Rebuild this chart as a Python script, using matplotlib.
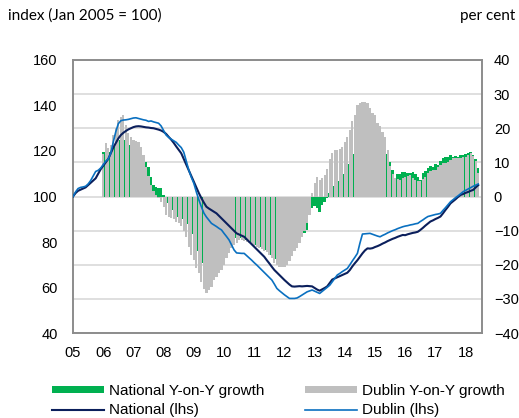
import matplotlib
matplotlib.use("Agg")
import matplotlib.pyplot as plt
from matplotlib.patches import Patch
from matplotlib.lines import Line2D
import numpy as np

# Monthly, Jan 2005 .. Jun 2018
year_labels = ["05", "06", "07", "08", "09", "10", "11", "12", "13", "14", "15", "16", "17", "18"]

national_index = [
    100.0, 101.5, 102.5, 103.0, 103.5, 104.0, 105.0, 106.0, 107.0, 108.0, 110.0, 112.0,   # 2005
    113.5, 115.0, 116.5, 119.0, 121.5, 123.5, 125.5, 127.0, 128.0, 128.8, 129.5, 130.0,   # 2006
    130.5, 130.8, 130.9, 130.8, 130.6, 130.4, 130.3, 130.1, 130.0, 129.7, 129.4, 129.0,   # 2007
    128.4, 127.5, 126.2, 125.0, 123.6, 122.0, 120.5, 119.0, 116.5, 114.0, 111.6, 109.0,   # 2008
    106.5, 104.0, 101.5, 99.3, 97.3, 95.5, 94.7, 94.0, 93.3, 92.6, 91.5, 90.4,            # 2009
    89.3, 88.2, 87.1, 86.0, 84.9, 83.8, 83.3, 82.8, 82.3, 81.2, 80.1, 79.0,               # 2010
    77.9, 76.8, 75.7, 74.6, 73.5, 72.0, 70.6, 69.1, 67.7, 66.6, 65.5, 64.4,               # 2011
    63.3, 62.3, 61.3, 60.5, 60.4, 60.5, 60.6, 60.5, 60.6, 60.7, 60.6, 60.5,               # 2012
    59.8, 59.1, 58.6, 59.2, 59.8, 60.5, 62.0, 63.5, 64.0, 64.5, 65.0, 65.5,               # 2013
    66.0, 66.5, 67.7, 69.3, 70.7, 72.0, 73.5, 75.0, 76.3, 77.2, 77.1, 77.3,               # 2014
    77.8, 78.2, 78.7, 79.3, 79.8, 80.4, 80.9, 81.4, 81.8, 82.3, 82.7, 83.1,               # 2015
    83.0, 83.4, 83.7, 84.0, 84.2, 84.5, 85.3, 86.2, 87.2, 88.1, 89.0, 89.5,               # 2016
    90.1, 90.6, 91.2, 92.6, 94.1, 95.5, 97.0, 97.9, 98.8, 99.8, 100.7, 101.1,             # 2017
    101.6, 102.0, 102.5, 102.9, 104.0, 105.0,                                             # 2018
]

dublin_index = [
    100.0, 102.0, 103.5, 104.0, 104.2, 104.5, 105.5, 107.0, 109.0, 111.0, 111.5, 112.5,   # 2005
    114.0, 115.5, 116.5, 119.0, 124.0, 128.5, 132.0, 133.3, 133.6, 133.7, 133.9, 134.2,   # 2006
    134.5, 134.6, 134.3, 134.0, 133.7, 133.5, 133.0, 133.2, 132.8, 132.5, 132.2, 131.0,   # 2007
    129.0, 127.0, 126.0, 125.2, 124.5, 123.8, 122.6, 121.5, 119.5, 115.5, 111.6, 108.5,   # 2008
    105.8, 102.0, 98.5, 95.5, 92.7, 91.0, 89.6, 88.2, 87.5, 86.8, 86.0, 85.3,             # 2009
    83.8, 82.4, 80.9, 78.7, 76.5, 75.2, 75.1, 75.0, 75.0, 74.0, 73.0, 72.0,               # 2010
    70.9, 69.9, 68.8, 67.7, 66.6, 65.5, 64.4, 63.3, 61.5, 59.6, 58.6, 57.7,               # 2011
    56.8, 56.0, 55.2, 55.2, 55.2, 55.4, 56.0, 56.7, 57.4, 58.1, 58.5, 58.9,               # 2012
    58.4, 57.9, 57.4, 58.3, 59.2, 60.1, 61.0, 62.5, 64.0, 65.5, 66.2, 67.0,               # 2013
    67.7, 68.4, 70.0, 71.7, 73.3, 75.0, 79.5, 83.5, 83.6, 83.7, 83.8, 83.4,               # 2014
    83.0, 82.6, 82.3, 82.9, 83.4, 84.0, 84.5, 85.0, 85.4, 85.9, 86.3, 86.7,               # 2015
    87.0, 87.2, 87.5, 87.7, 88.0, 88.2, 89.0, 89.7, 90.5, 91.2, 91.5, 91.8,               # 2016
    92.1, 92.3, 92.6, 93.9, 95.1, 96.4, 97.7, 98.6, 99.5, 100.3, 101.2, 102.1,            # 2017
    102.7, 103.3, 103.9, 104.5, 105.0, 105.5,                                             # 2018
]

# Year-on-year growth (per cent), Jan 2006 .. Jun 2018
national_yoy = [
    13.1, 13.0, 13.0, 13.1, 14.5, 15.5, 16.5, 17.0, 16.5, 15.8, 15.0, 14.6,               # 2006
    14.5, 14.3, 14.2, 14.0, 12.0, 10.0, 8.7, 5.8, 3.5, 2.9, 2.6, 2.4,                     # 2007
    0.5, -1.0, -2.0, -3.0, -4.0, -5.0, -5.9, -6.5, -7.5, -8.2, -8.8, -11.0,               # 2008
    -13.5, -16.0, -18.6, -19.5, -20.0, -20.3, -20.6, -20.0, -19.0, -17.5, -16.2, -15.5,   # 2009
    -14.6, -14.0, -13.5, -13.0, -12.5, -12.2, -12.0, -12.2, -12.5, -12.7, -13.0, -13.3,   # 2010
    -13.7, -14.2, -14.8, -15.3, -15.7, -16.3, -17.0, -17.6, -18.2, -18.5, -18.5, -18.3,   # 2011
    -18.0, -17.0, -15.8, -14.5, -13.5, -12.7, -11.5, -11.0, -10.8, -9.8, -5.0, -3.5,      # 2012
    -2.9, -3.5, -4.4, -2.4, -1.5, -0.5, 1.0, 3.0, 3.5, 4.5, 5.5, 6.5,                     # 2013
    8.0, 9.5, 11.0, 12.5, 13.6, 15.0, 16.5, 17.5, 18.5, 19.5, 18.5, 17.5,                 # 2014
    16.5, 15.5, 14.5, 13.8, 13.6, 12.5, 10.2, 7.8, 5.5, 6.5, 6.5, 7.3,                    # 2015
    7.3, 7.0, 7.0, 7.3, 6.5, 5.8, 4.8, 6.8, 7.5, 8.3, 9.0, 8.7,                           # 2016
    9.5, 9.2, 10.5, 11.2, 11.5, 11.7, 12.2, 11.7, 12.0, 11.7, 12.2, 12.2,                 # 2017
    12.5, 12.7, 13.1, 12.2, 11.0, 8.3,                                                    # 2018
]

dublin_yoy = [
    12.5, 15.6, 14.1, 15.1, 18.0, 20.0, 22.4, 23.4, 23.9, 21.0, 18.5, 17.5,               # 2006
    16.6, 16.3, 16.1, 14.6, 12.2, 8.7, 6.0, 3.5, 1.5, 0.5, -0.5, -1.5,                    # 2007
    -3.0, -5.5, -6.0, -6.2, -6.5, -7.5, -7.9, -8.5, -10.0, -12.0, -14.7, -17.0,           # 2008
    -18.5, -21.0, -22.5, -25.0, -27.0, -28.2, -27.5, -26.4, -24.5, -23.5, -22.5, -21.5,   # 2009
    -20.0, -18.0, -16.6, -15.0, -14.2, -13.5, -12.7, -12.7, -13.0, -13.2, -13.5, -14.2,   # 2010
    -14.7, -14.8, -15.2, -15.5, -16.0, -16.2, -17.0, -18.0, -19.5, -20.0, -20.6, -20.6,   # 2011
    -20.6, -20.0, -19.0, -17.5, -16.0, -15.0, -13.5, -12.0, -10.0, -7.9, -5.5, 1.0,       # 2012
    4.0, 5.8, 4.8, 5.5, 6.3, 8.0, 11.0, 12.7, 13.6, 13.6, 13.8, 14.6,                     # 2013
    16.1, 17.5, 19.5, 22.0, 24.0, 26.8, 27.5, 27.8, 27.8, 27.5, 26.0, 24.5,               # 2014
    23.9, 21.4, 20.8, 19.0, 17.5, 13.6, 9.0, 6.5, 5.3, 5.0, 4.8, 5.3,                     # 2015
    5.8, 6.0, 6.3, 5.5, 4.8, 4.5, 4.4, 5.0, 5.8, 6.8, 7.5, 7.8,                           # 2016
    7.8, 8.5, 9.2, 9.7, 9.7, 10.2, 10.8, 11.2, 11.2, 11.2, 11.2, 11.5,                    # 2017
    11.7, 12.2, 12.8, 12.0, 10.5, 7.0,                                                    # 2018
]

legend_labels = ["National Y-on-Y growth", "Dublin Y-on-Y growth", "National (lhs)", "Dublin (lhs)"]

GREEN = "#00B050"
GREY = "#BFBFBF"
NAVY = "#0B1F5C"
BLUE = "#0A70C0"
AXIS_GREY = "#8C8C8C"
GRID_GREY = "#D9D9D9"

plt.rcParams["font.family"] = ["Liberation Sans", "DejaVu Sans"]

fig = plt.figure(figsize=(5.19, 4.18), dpi=100)
ax = fig.add_axes([0.1407, 0.2033, 0.7880, 0.6532])   # bars, right-hand scale
axl = ax.twinx()                                        # lines, left-hand scale

months = np.arange(len(national_index))
bar_x = months[12:12 + len(national_yoy)]

ax.bar(bar_x, national_yoy, width=1.0, color=GREEN, linewidth=0, zorder=2)
ax.bar(bar_x, dublin_yoy, width=0.88, color=GREY, linewidth=0, zorder=3)

axl.plot(months, national_index, color=NAVY, lw=1.5, zorder=4)
axl.plot(months, dublin_index, color=BLUE, lw=1.2, zorder=5)

ax.set_ylim(-40, 40)
ax.set_yticks(np.arange(-40, 41, 10))
axl.set_ylim(40, 160)
axl.set_yticks(np.arange(40, 161, 20))
ax.set_xlim(0, 162.5)
ax.set_xticks(np.arange(0, 12 * len(year_labels), 12))
ax.set_xticklabels(year_labels)

ax.yaxis.tick_right()
axl.yaxis.tick_left()
ax.yaxis.set_label_position("right")

for a in (ax, axl):
    a.tick_params(length=0, labelsize=10.5, colors="black")
    for s in a.spines.values():
        s.set_color(AXIS_GREY)
        s.set_linewidth(1.2)
ax.tick_params(axis="y", pad=8.5)
axl.tick_params(axis="y", pad=11)
ax.tick_params(axis="x", pad=9)
for lab in ax.get_yticklabels():
    lab.set_horizontalalignment("left")

ax.grid(axis="y", color=GRID_GREY, lw=1.2, zorder=0)
ax.set_axisbelow(True)

fig.text(8 / 519, 1 - 16 / 418, "index (Jan 2005 = 100)", family="Lato", fontsize=11,
         ha="left", va="center")
fig.text(515 / 519, 1 - 16 / 418, "per cent", family="Lato", fontsize=11,
         ha="right", va="center")

handles = [
    Patch(facecolor=GREEN, edgecolor="none"),
    Line2D([], [], color=NAVY, lw=1.5),
    Patch(facecolor=GREY, edgecolor="none"),
    Line2D([], [], color=BLUE, lw=1.2),
]
labels = [legend_labels[0], legend_labels[2], legend_labels[1], legend_labels[3]]
fig.legend(handles, labels, ncol=2, loc="upper left", bbox_to_anchor=(52 / 519, 1 - 384 / 418),
           frameon=False, fontsize=11, handlelength=3.4, handleheight=0.4, handletextpad=0.3,
           columnspacing=2.7, labelspacing=0.35, borderaxespad=0, borderpad=0)

fig.savefig("out.png", dpi=100)
